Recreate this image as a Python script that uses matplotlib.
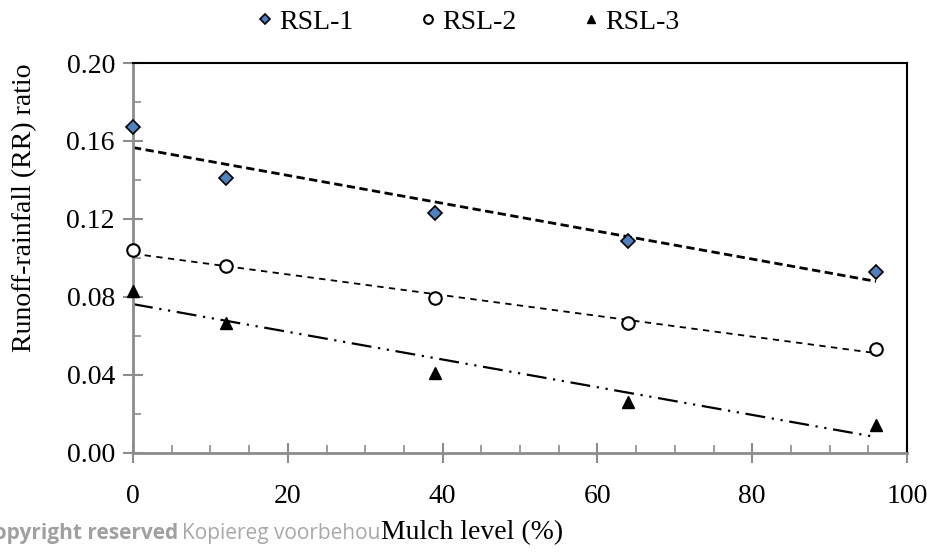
import numpy as np
import matplotlib.pyplot as plt
from matplotlib.ticker import MultipleLocator, FormatStrFormatter

# mulch level (%) and runoff-rainfall ratio per slope
mulch = np.array([0, 12, 39, 64, 96])
rsl1 = [0.167, 0.141, 0.123, 0.1087, 0.0927]
rsl2 = [0.104, 0.0959, 0.0793, 0.0665, 0.0532]
rsl3 = [0.0832, 0.0668, 0.0412, 0.0263, 0.0144]

plt.rcParams['font.family'] = ['Liberation Serif', 'DejaVu Serif']
plt.rcParams['font.size'] = 20

W, H = 927, 552
fig = plt.figure(figsize=(W / 100, H / 100), dpi=100)
ax = fig.add_axes([133 / W, 1 - 453 / H, (907 - 133) / W, (453 - 63) / H])

gray = '#8c8c8c'

# linear trend lines
xs = np.array([mulch[0], mulch[-1]])
for ys, ls, lw in [(rsl1, (0, (3, 1.6)), 2.0),
                   (rsl2, (0, (3.5, 3)), 1.3),
                   (rsl3, (0, (9, 3, 1, 3, 1, 3)), 1.6)]:
    k, b = np.polyfit(mulch, ys, 1)
    ax.plot(xs, k * xs + b, color='black', linestyle=ls, linewidth=lw, zorder=2)

ax.plot(mulch, rsl1, 'D', color='#4f81bd', mec='black', mew=1.2, ms=7, zorder=3, clip_on=False, label='RSL-1')
ax.plot(mulch, rsl2, 'o', color='white', mec='black', mew=1.5, ms=9, zorder=3, clip_on=False, label='RSL-2')
ax.plot(mulch, rsl3, '^', color='black', mec='black', ms=9, zorder=3, clip_on=False, label='RSL-3')

ax.set_xlim(0, 100)
ax.set_ylim(0, 0.20)
ax.xaxis.set_major_locator(MultipleLocator(20))
ax.xaxis.set_minor_locator(MultipleLocator(5))
ax.yaxis.set_major_locator(MultipleLocator(0.04))
ax.yaxis.set_minor_locator(MultipleLocator(0.02))
ax.yaxis.set_major_formatter(FormatStrFormatter('%.2f'))

for s in ['left', 'bottom']:
    ax.spines[s].set_color(gray)
    ax.spines[s].set_linewidth(2)
for s in ['top', 'right']:
    ax.spines[s].set_color('black')
    ax.spines[s].set_linewidth(1.5)

ax.tick_params(which='major', direction='inout', length=14, width=1.5, color=gray)
ax.tick_params(which='minor', direction='in', length=6, width=1.2, color=gray)
ax.tick_params(axis='x', which='major', pad=15)
ax.tick_params(axis='y', which='major', pad=6)

ax.set_ylabel('Runoff-rainfall (RR) ratio', va='center')
ax.yaxis.set_label_coords((25 - 133) / 774, (453 - 208) / 390)
ax.set_xlabel('Mulch level (%)', va='center')
ax.xaxis.set_label_coords((472 - 133) / 774, -(533 - 453) / 390)

fig.legend(loc='center', bbox_to_anchor=(468 / W, 1 - 22 / H), ncol=3, frameon=False,
           handlelength=0.6, handletextpad=0.2, columnspacing=2.4, markerscale=0.7,
           borderpad=0, borderaxespad=0)

# faint watermark behind the x label
fig.text(-17 / W, 1 - 533 / H, 'copyright reserved', family='Open Sans', weight='bold',
         fontsize=15, color='#a0a0a0', va='center', zorder=0)
fig.text(182 / W, 1 - 533 / H, 'Kopiereg voorbehou', family='Open Sans',
         fontsize=15, color='#a8a8a8', va='center', zorder=0)

fig.savefig('out.png', dpi=100)
